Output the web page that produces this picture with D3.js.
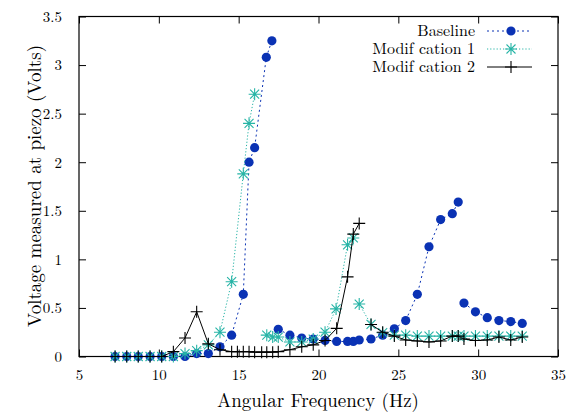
<!DOCTYPE html>
<html><head><meta charset="utf-8">
<script src="https://cdn.jsdelivr.net/npm/d3@7"></script>
<style>body{margin:0;background:#fff}svg{display:block}</style>
</head><body><svg id="c" width="569" height="414"></svg>
<script>
const xTicks = [5,10,15,20,25,30,35];
const yTicks = [0,0.5,1,1.5,2,2.5,3,3.5];
const yTickLabels = ["0","0.5","1","1.5","2","2.5","3","3.5"];
const seriesNames = ["Baseline","Modif cation 1","Modif cation 2"];

const freqBase = [7.26,7.99,8.71,9.45,10.18,10.91,11.64,12.37,13.10,13.83,14.56,15.29,15.65,16.0,16.73,17.08,17.48,18.21,18.95,19.67,20.41,21.14,21.82,22.18,22.55,23.29,24.02,24.75,25.46,26.19,26.92,27.65,28.38,28.75,29.11,29.83,30.57,31.3,32.04,32.76];
const voltBase = [0,0,0,0,0,0,0,0.03,0.03,0.1,0.22,0.64,2.0,2.15,3.08,3.25,0.28,0.22,0.19,0.18,0.165,0.155,0.155,0.155,0.17,0.18,0.22,0.285,0.37,0.64,1.13,1.41,1.47,1.59,0.55,0.46,0.4,0.37,0.36,0.34];
const segStartBase = [16,34];

const freqMod1 = [7.26,7.99,8.71,9.45,10.18,10.91,11.64,12.37,13.10,13.83,14.56,15.29,15.65,16.0,16.76,17.13,17.48,18.21,18.95,19.67,20.41,21.1,21.82,22.18,22.55,23.29,24.02,24.75,25.46,26.19,26.92,27.65,28.38,28.75,29.11,29.83,30.57,31.3,32.04,32.76];
const voltMod1 = [0,0,0,0,0,0,0.03,0.06,0.12,0.25,0.77,1.88,2.4,2.7,0.22,0.2,0.2,0.15,0.15,0.18,0.25,0.49,1.15,1.22,0.54,0.33,0.245,0.22,0.22,0.21,0.21,0.21,0.21,0.21,0.21,0.21,0.21,0.21,0.21,0.21];
const segStartMod1 = [14,24];

const freqMod2 = [7.26,7.99,8.71,9.45,10.18,10.91,11.64,12.37,13.10,13.83,14.56,14.92,15.29,15.65,16.0,16.44,16.76,17.13,17.48,18.21,18.95,19.67,20.41,21.14,21.82,22.18,22.55,23.29,24.02,24.75,25.46,26.19,26.92,27.65,28.38,28.75,29.11,29.83,30.57,31.3,32.04,32.76];
const voltMod2 = [0,0,0,0,0,0.05,0.19,0.46,0.13,0.07,0.05,0.05,0.05,0.05,0.045,0.045,0.045,0.045,0.05,0.07,0.1,0.12,0.165,0.29,0.82,1.26,1.37,0.33,0.25,0.21,0.17,0.16,0.15,0.16,0.21,0.21,0.18,0.165,0.17,0.2,0.17,0.2];
const segStartMod2 = [27];

const colors = ["#0a32b4","#26b4a6","#000000"];
const FONT = '"Latin Modern Roman", "Liberation Serif", serif';

const svg = d3.select("#c");
const L=79,R=558,T=16.5,B=356.5;
const x = d3.scaleLinear().domain([5,35]).range([L,R]);
const y = d3.scaleLinear().domain([0,3.5]).range([B,T]);

function txt(sel,size){return sel.style("font-family",FONT).style("font-size",size+"px").attr("fill","#000");}

const tl=7;
svg.append("g").attr("transform",`translate(0,${B})`)
  .call(d3.axisBottom(x).tickValues(xTicks).tickSize(-tl).tickPadding(13).tickFormat(d3.format("d")))
  .call(g=>{g.select(".domain").remove();txt(g.selectAll("text"),15);});
svg.append("g").attr("transform",`translate(0,${T})`)
  .call(d3.axisTop(x).tickValues(xTicks).tickSize(-tl).tickFormat(""))
  .call(g=>g.select(".domain").remove());
svg.append("g").attr("transform",`translate(${L},0)`)
  .call(d3.axisLeft(y).tickValues(yTicks).tickSize(-tl).tickPadding(17).tickFormat((d,i)=>yTickLabels[i]))
  .call(g=>{g.select(".domain").remove();txt(g.selectAll("text"),15);});
svg.append("g").attr("transform",`translate(${R},0)`)
  .call(d3.axisRight(y).tickValues(yTicks).tickSize(-tl).tickFormat(""))
  .call(g=>g.select(".domain").remove());
svg.selectAll(".tick line").attr("stroke","#000");
svg.append("rect").attr("x",L).attr("y",T).attr("width",R-L).attr("height",B-T)
  .attr("fill","none").attr("stroke","#000").attr("stroke-width",1.2);

txt(svg.append("text").attr("x",318).attr("y",407).attr("text-anchor","middle"),19).text("Angular Frequency (Hz)");
txt(svg.append("text").attr("transform","translate(41,186) rotate(-90)").attr("text-anchor","middle"),19).text("Voltage measured at piezo (Volts)");

const series = [
  {f:freqBase,v:voltBase,seg:segStartBase,dash:"2,3",type:"circle"},
  {f:freqMod1,v:voltMod1,seg:segStartMod1,dash:"1.2,2",type:"star"},
  {f:freqMod2,v:voltMod2,seg:segStartMod2,dash:null,type:"plus"}
];
function marker(g,type,col){
  if(type==="circle"){g.append("circle").attr("r",4.6).attr("fill",col);}
  else if(type==="plus"){g.append("path").attr("d","M-6,0H6M0,-6V6").attr("stroke",col).attr("stroke-width",1.1).attr("fill","none");}
  else {g.append("path").attr("d","M-6,0H6M0,-6V6M-4.5,-4.5L4.5,4.5M-4.5,4.5L4.5,-4.5").attr("stroke",col).attr("stroke-width",1.1).attr("fill","none");}
}
const line = d3.line().x(d=>x(d[0])).y(d=>y(d[1]));
series.forEach((s,i)=>{
  const data = s.f.map((f,k)=>[f,s.v[k]]);
  const bounds = [0,...s.seg,data.length];
  for(let b=0;b<bounds.length-1;b++){
    const seg = data.slice(bounds[b],bounds[b+1]);
    const p = svg.append("path").datum(seg).attr("d",line).attr("fill","none").attr("stroke",colors[i]).attr("stroke-width",1);
    if(s.dash) p.attr("stroke-dasharray",s.dash);
  }
  data.forEach(d=>{
    const g = svg.append("g").attr("transform",`translate(${x(d[0])},${y(d[1])})`);
    marker(g,s.type,colors[i]);
  });
  const ly = 31 + i*18;
  txt(svg.append("text").attr("x",475).attr("y",ly).attr("dy","0.33em").attr("text-anchor","end"),16).text(seriesNames[i]);
  const lp = svg.append("line").attr("x1",487).attr("x2",532).attr("y1",ly).attr("y2",ly).attr("stroke",colors[i]).attr("stroke-width",1);
  if(s.dash) lp.attr("stroke-dasharray",s.dash);
  const g = svg.append("g").attr("transform",`translate(511,${ly})`);
  marker(g,s.type,colors[i]);
});
</script></body></html>
